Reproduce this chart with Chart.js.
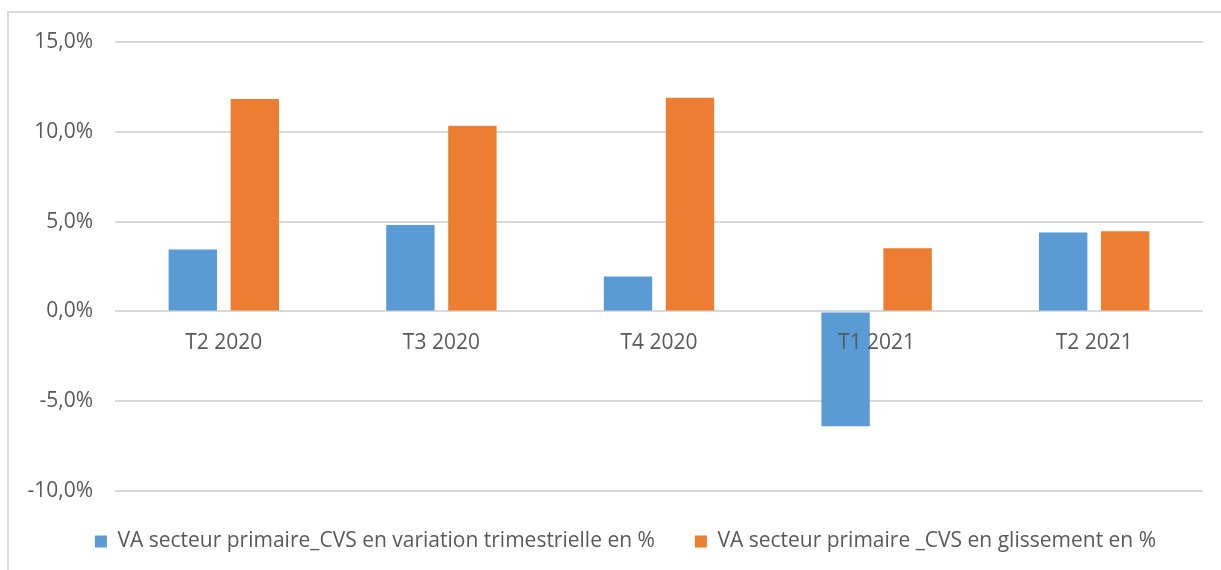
<!DOCTYPE html>
<html>
<head>
<meta charset="utf-8">
<script src="https://cdn.jsdelivr.net/npm/chart.js@4"></script>
<style>
  html, body { margin: 0; padding: 0; background: #fff; overflow: hidden; }
  #wrap { position: relative; width: 1221px; height: 570px; }
  #frame { position: absolute; left: 7px; top: 11px; width: 1300px; height: 700px;
           border-left: 2px solid #d9d9d9; border-top: 2px solid #d9d9d9; }
  #chart { position: absolute; left: 0; top: 0; }
</style>
</head>
<body>
<div id="wrap">
  <div id="frame"></div>
  <canvas id="chart" width="1221" height="570"></canvas>
</div>
<script>
const categories = ['T2 2020', 'T3 2020', 'T4 2020', 'T1 2021', 'T2 2021'];
const variationTrim = [3.44, 4.81, 1.95, -6.40, 4.39];
const glissement = [11.83, 10.33, 11.89, 3.51, 4.46];
const seriesLabels = [
    'VA secteur primaire_CVS en variation trimestrielle en %',
    'VA secteur primaire _CVS en glissement en %'
];

// the original legend sits a little right of the plot centre
const legendShift = {
    id: 'legendShift',
    afterLayout(chart) {
        chart.legend.left += 24;
        chart.legend.right += 24;
    }
};

document.addEventListener('DOMContentLoaded', function () {
    const ctx = document.getElementById('chart');
    const family = '"Open Sans", "Liberation Sans", sans-serif';

    new Chart(ctx, {
        type: 'bar',
        data: {
            labels: categories,
            datasets: [{
                label: seriesLabels[0],
                data: variationTrim,
                backgroundColor: '#5B9BD5'
            }, {
                label: seriesLabels[1],
                data: glissement,
                backgroundColor: '#ED7D31'
            }]
        },
        options: {
            responsive: false,
            animation: false,
            devicePixelRatio: 1,
            categoryPercentage: 0.57,
            barPercentage: 0.78,
            layout: { padding: { top: 42, right: 18, bottom: 8, left: 0 } },
            plugins: {
                tooltip: { enabled: false },
                legend: {
                    position: 'bottom',
                    labels: {
                        color: '#595959',
                        font: { family: family, size: 21 },
                        boxWidth: 12,
                        boxHeight: 12,
                        padding: 40
                    }
                }
            },
            scales: {
                x: {
                    position: { y: 0 },
                    grid: { display: false, drawTicks: false },
                    border: { display: false },
                    ticks: { color: '#595959', font: { family: family, size: 21 }, padding: 19, z: 1 }
                },
                y: {
                    min: -10,
                    max: 15,
                    ticks: {
                        stepSize: 5,
                        color: '#595959',
                        font: { family: family, size: 21 },
                        padding: 22,
                        callback: v => v.toFixed(1).replace('.', ',') + '%'
                    },
                    grid: { color: '#d9d9d9', lineWidth: 2, drawTicks: false },
                    border: { display: false },
                    afterFit: scale => { scale.width = 115; }
                }
            }
        },
        plugins: [legendShift]
    });
});
</script>
</body>
</html>
